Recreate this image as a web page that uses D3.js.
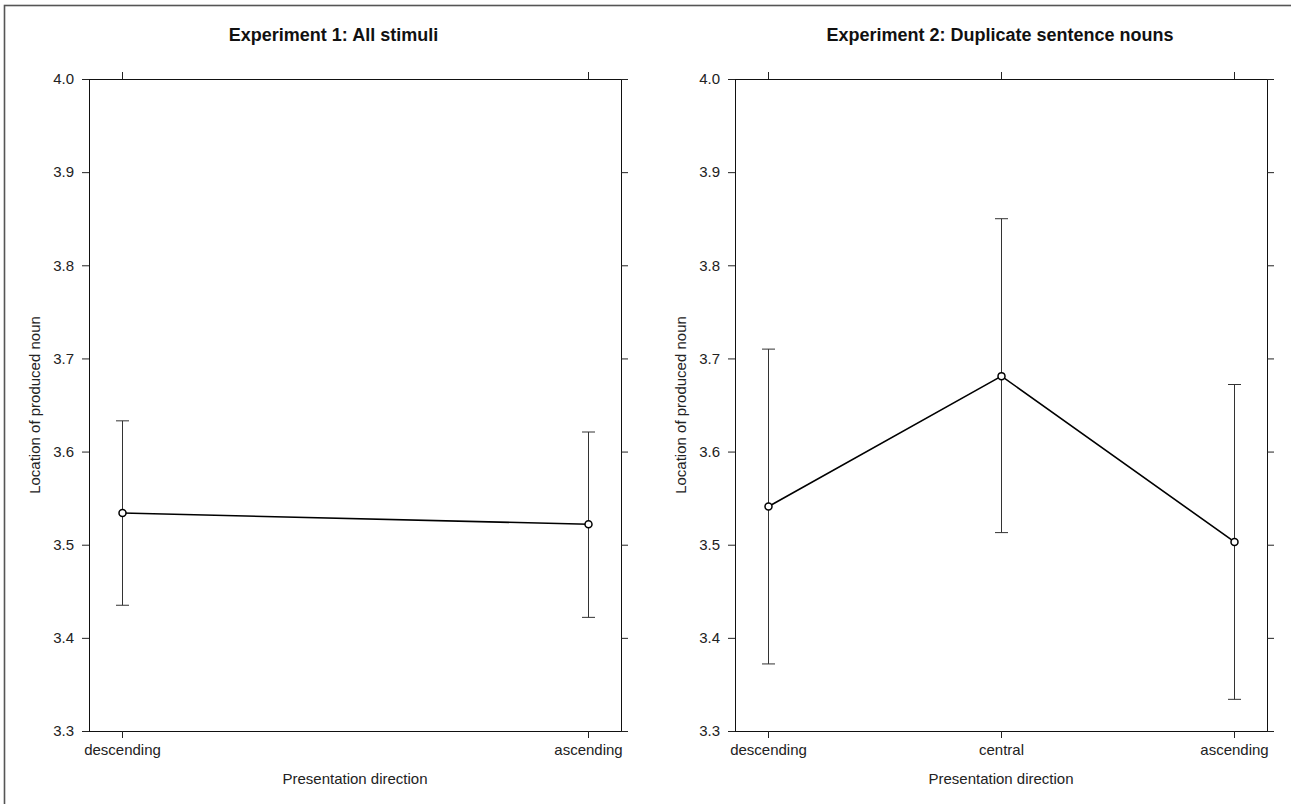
<!DOCTYPE html>
<html>
<head>
<meta charset="utf-8">
<script src="https://cdn.jsdelivr.net/npm/d3@7"></script>
<style>
  body { margin: 0; background: #fff; }
  svg { display: block; font-family: "Liberation Sans", Arial, Helvetica, sans-serif; }
  .axis path { display: none; }
  .axis line { stroke: #222; }
  .axis text { font-size: 15px; fill: #222; }
</style>
</head>
<body>
<script>
// values
var panelTitles = ["Experiment 1: All stimuli", "Experiment 2: Duplicate sentence nouns"];

var exp1Directions = ["descending", "ascending"];
var exp1Means = [3.534, 3.522];
var exp1Lower = [3.435, 3.422];
var exp1Upper = [3.633, 3.621];

var exp2Directions = ["descending", "central", "ascending"];
var exp2Means = [3.541, 3.681, 3.503];
var exp2Lower = [3.372, 3.513, 3.334];
var exp2Upper = [3.710, 3.850, 3.672];

var yTicks = [3.3, 3.4, 3.5, 3.6, 3.7, 3.8, 3.9, 4.0];
var yDomain = [3.3, 4.0];

var xLabel = "Presentation direction",
    yLabel = "Location of produced noun";

function draw() {
  var width = 1291, height = 804;

  var svg = d3.select("body").append("svg")
      .attr("width", width)
      .attr("height", height);

  // outer frame (only top/left edges fall inside the picture)
  svg.append("rect")
      .attr("x", 4.5)
      .attr("y", 5.5)
      .attr("width", 1400)
      .attr("height", 1000)
      .attr("fill", "none")
      .attr("stroke", "#555")
      .attr("stroke-width", 1.6);

  var panels = [
    { title: panelTitles[0], titleX: 333.5, left: 89, right: 621,
      cats: exp1Directions, mean: exp1Means, lo: exp1Lower, hi: exp1Upper },
    { title: panelTitles[1], titleX: 1000, left: 735, right: 1267,
      cats: exp2Directions, mean: exp2Means, lo: exp2Lower, hi: exp2Upper }
  ];

  var plotTop = 79, plotBottom = 731, inset = 33;

  var y = d3.scaleLinear().domain(yDomain).range([plotBottom, plotTop]);

  panels.forEach(function (p) {
    var x = d3.scalePoint()
        .domain(p.cats)
        .range([p.left + inset, p.right - inset]);

    var g = svg.append("g");

    g.append("rect")
        .attr("x", p.left + 0.5)
        .attr("y", plotTop + 0.5)
        .attr("width", p.right - p.left)
        .attr("height", plotBottom - plotTop)
        .attr("fill", "none")
        .attr("stroke", "#111")
        .attr("stroke-width", 1);

    g.append("g")
        .attr("class", "axis")
        .attr("transform", "translate(" + p.left + ",0)")
        .call(d3.axisLeft(y).tickValues(yTicks).tickSize(7).tickPadding(8).tickFormat(d3.format(".1f")));

    g.append("g")
        .attr("class", "axis")
        .attr("transform", "translate(" + p.right + ",0)")
        .call(d3.axisRight(y).tickValues(yTicks).tickSize(7).tickFormat(""));

    g.append("g")
        .attr("class", "axis")
        .attr("transform", "translate(0," + plotBottom + ")")
        .call(d3.axisBottom(x).tickSize(7).tickPadding(6));

    g.append("g")
        .attr("class", "axis")
        .attr("transform", "translate(0," + plotTop + ")")
        .call(d3.axisTop(x).tickSize(7).tickFormat(""));

    // titles
    g.append("text")
        .attr("x", p.titleX)
        .attr("y", 41)
        .attr("text-anchor", "middle")
        .style("font-size", "18px")
        .style("font-weight", "bold")
        .attr("fill", "#111")
        .text(p.title);

    g.append("text")
        .attr("x", (p.left + p.right) / 2)
        .attr("y", 784)
        .attr("text-anchor", "middle")
        .style("font-size", "15px")
        .attr("fill", "#222")
        .text(xLabel);

    g.append("text")
        .attr("transform", "translate(" + (p.left - 49) + "," + ((plotTop + plotBottom) / 2) + ") rotate(-90)")
        .attr("text-anchor", "middle")
        .style("font-size", "15px")
        .attr("fill", "#222")
        .text(yLabel);

    var rows = p.cats.map(function (c, i) {
      return { cat: c, mean: p.mean[i], lo: p.lo[i], hi: p.hi[i] };
    });

    // error bars
    var eb = g.append("g").selectAll("g").data(rows).enter().append("g")
        .attr("stroke", "#333")
        .attr("stroke-width", 1);

    eb.append("line")
        .attr("x1", function (d) { return x(d.cat) + 0.5; })
        .attr("x2", function (d) { return x(d.cat) + 0.5; })
        .attr("y1", function (d) { return y(d.lo); })
        .attr("y2", function (d) { return y(d.hi); });

    eb.append("line")
        .attr("x1", function (d) { return x(d.cat) - 6; })
        .attr("x2", function (d) { return x(d.cat) + 7; })
        .attr("y1", function (d) { return y(d.hi); })
        .attr("y2", function (d) { return y(d.hi); });

    eb.append("line")
        .attr("x1", function (d) { return x(d.cat) - 6; })
        .attr("x2", function (d) { return x(d.cat) + 7; })
        .attr("y1", function (d) { return y(d.lo); })
        .attr("y2", function (d) { return y(d.lo); });

    var line = d3.line()
        .x(function (d) { return x(d.cat) + 0.5; })
        .y(function (d) { return y(d.mean); });

    g.append("path")
        .datum(rows)
        .attr("d", line)
        .attr("fill", "none")
        .attr("stroke", "#000")
        .attr("stroke-width", 1.6);

    g.append("g").selectAll("circle").data(rows).enter().append("circle")
        .attr("cx", function (d) { return x(d.cat) + 0.5; })
        .attr("cy", function (d) { return y(d.mean); })
        .attr("r", 3.5)
        .attr("fill", "#fff")
        .attr("stroke", "#000")
        .attr("stroke-width", 1.5);
  });
}

draw();
</script>
</body>
</html>
